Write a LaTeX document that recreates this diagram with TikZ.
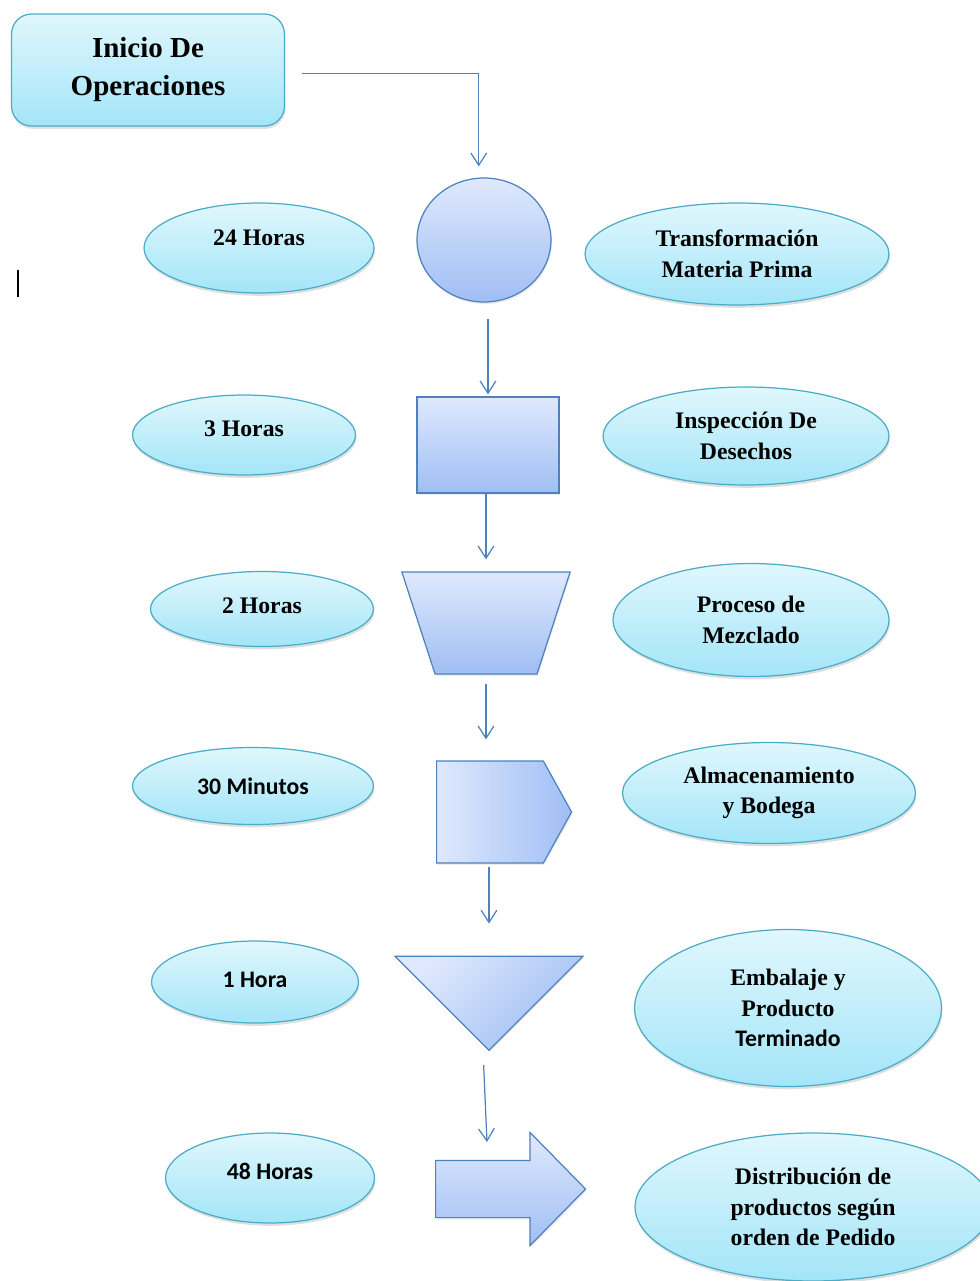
\documentclass[tikz,border=0pt]{standalone}
\usepackage{fontspec}
\setmainfont{Liberation Serif}
\newfontfamily\calibri{Carlito}
\usetikzlibrary{arrows.meta,shapes.geometric,shapes.symbols,shapes.arrows,shadows}

\definecolor{celesteclaro}{RGB}{224,247,253}
\definecolor{celeste}{RGB}{163,229,248}
\definecolor{bordeceleste}{RGB}{75,172,198}
\definecolor{azulclaro}{RGB}{223,233,253}
\definecolor{azul}{RGB}{160,190,244}
\definecolor{bordeazul}{RGB}{79,129,189}

\begin{document}
\begin{tikzpicture}[x=0.02cm,y=-0.02cm,->,>={Straight Barb[length=7pt,width=9pt]},
                    line width=0.7pt,
                    every node/.style={font=\bfseries\fontsize{13.5}{17.5}\selectfont,align=center,inner sep=0pt}]
  \tikzstyle{tiempo}=[ellipse,draw=bordeceleste,top color=celesteclaro,bottom color=celeste,
                      drop shadow={shadow xshift=0.5pt,shadow yshift=-1.6pt,opacity=0.25}]
  \tikzstyle{forma}=[draw=bordeazul,top color=azulclaro,bottom color=azul,inner sep=1pt,
                     drop shadow={shadow xshift=0.5pt,shadow yshift=-1.2pt,opacity=0.15}]
  \tikzstyle{flecha}=[draw=bordeazul]
  \tikzstyle{sans}=[font=\calibri\bfseries\fontsize{13.5}{17.5}\selectfont]

  \useasboundingbox (0,0) rectangle (980,1281);
  \clip (0,0) rectangle (980,1281);

  \node[tiempo,rectangle,rounded corners=0.4cm,minimum width=5.46cm,minimum height=2.24cm,
        font=\bfseries\fontsize{16.5}{21.6}\selectfont] (inicio) at (148,70) {Inicio De\\Operaciones};

  % simbolos del proceso
  \node[forma,ellipse,minimum width=2.68cm,minimum height=2.48cm] (transf) at (484,240) {};
  \node[forma,rectangle,minimum width=2.84cm,minimum height=1.92cm] (insp) at (488,445) {};
  \node[forma,trapezium,shape border rotate=180,trapezium angle=72,
        minimum width=3.3cm,minimum height=2.04cm] (mezcla) at (486,623) {};
  \node[forma,signal,signal to=east,signal pointer angle=122,minimum width=2.7cm,
        minimum height=2.04cm,left color=azulclaro,right color=azul,anchor=west] (almacen) at (436,812) {};
  \node[forma,isosceles triangle,isosceles triangle apex angle=90,shape border rotate=-90,
        minimum size=1.88cm,shading angle=45,anchor=apex] (embalaje) at (489,1051) {};
  \node[forma,single arrow,single arrow head extend=0.56cm,single arrow head indent=0pt,
        single arrow tip angle=91,inner ysep=0.56cm,minimum height=3cm,anchor=tail] (envio) at (435,1189) {};
  \coordinate (llegada) at (487,1142);

  % tiempos
  \node[tiempo,minimum width=4.6cm,minimum height=1.8cm] (t1) at (259,248) {\raisebox{12pt}{24 Horas}};
  \node[tiempo,minimum width=4.46cm,minimum height=1.6cm] (t2) at (244,435) {\raisebox{7pt}{3 Horas}};
  \node[tiempo,minimum width=4.46cm,minimum height=1.5cm] (t3) at (262,609) {\raisebox{4pt}{2 Horas}};
  \node[tiempo,sans,minimum width=4.82cm,minimum height=1.54cm] (t4) at (253,786) {30 Minutos};
  \node[tiempo,sans,minimum width=4.14cm,minimum height=1.64cm] (t5) at (255,982) {\raisebox{3pt}{1 Hora}};
  \node[tiempo,sans,minimum width=4.18cm,minimum height=1.8cm] (t6) at (270,1178) {\raisebox{8pt}{48 Horas}};

  % descripciones
  \node[tiempo,minimum width=6.08cm,minimum height=2.04cm] (d1) at (737,254) {Transformación\\Materia Prima};
  \node[tiempo,minimum width=5.72cm,minimum height=1.96cm] (d2) at (746,436) {Inspección De\\Desechos};
  \node[tiempo,minimum width=5.52cm,minimum height=2.26cm] (d3) at (751,620) {Proceso de\\Mezclado};
  \node[tiempo,minimum width=5.86cm,minimum height=2.02cm] (d4) at (769,793) {Almacenamiento\\y Bodega};
  \node[tiempo,minimum width=6.14cm,minimum height=3.14cm] (d5) at (788,1008) {Embalaje y\\Producto\\{\calibri Terminado}};
  \node[tiempo,minimum width=7.12cm,minimum height=2.96cm] (d6) at (813,1207) {Distribución de\\productos según\\orden de Pedido};

  \draw[flecha,shorten <=0.34cm,shorten >=0.22cm] ([yshift=-2pt]inicio.east) -| ([xshift=-3pt]transf.north);
  \path (transf.south -| insp.north) edge [flecha,shorten <=0.32cm,shorten >=0.04cm] (insp.north)
        (insp.south -| mezcla.north) edge [flecha,shorten >=0.24cm] (mezcla.north)
        (mezcla.south) edge [flecha,shorten <=0.18cm,shorten >=0.42cm] (mezcla.south |- almacen.north)
        (embalaje.apex |- almacen.south) edge [flecha,shorten <=0.06cm,shorten >=0.64cm] (embalaje.lower side)
        ([xshift=-0.12cm]embalaje.apex) edge [flecha,shorten <=0.28cm] (llegada);

  \draw[-,black,line width=0.8pt] (18,270) -- (18,297);
\end{tikzpicture}
\end{document}
